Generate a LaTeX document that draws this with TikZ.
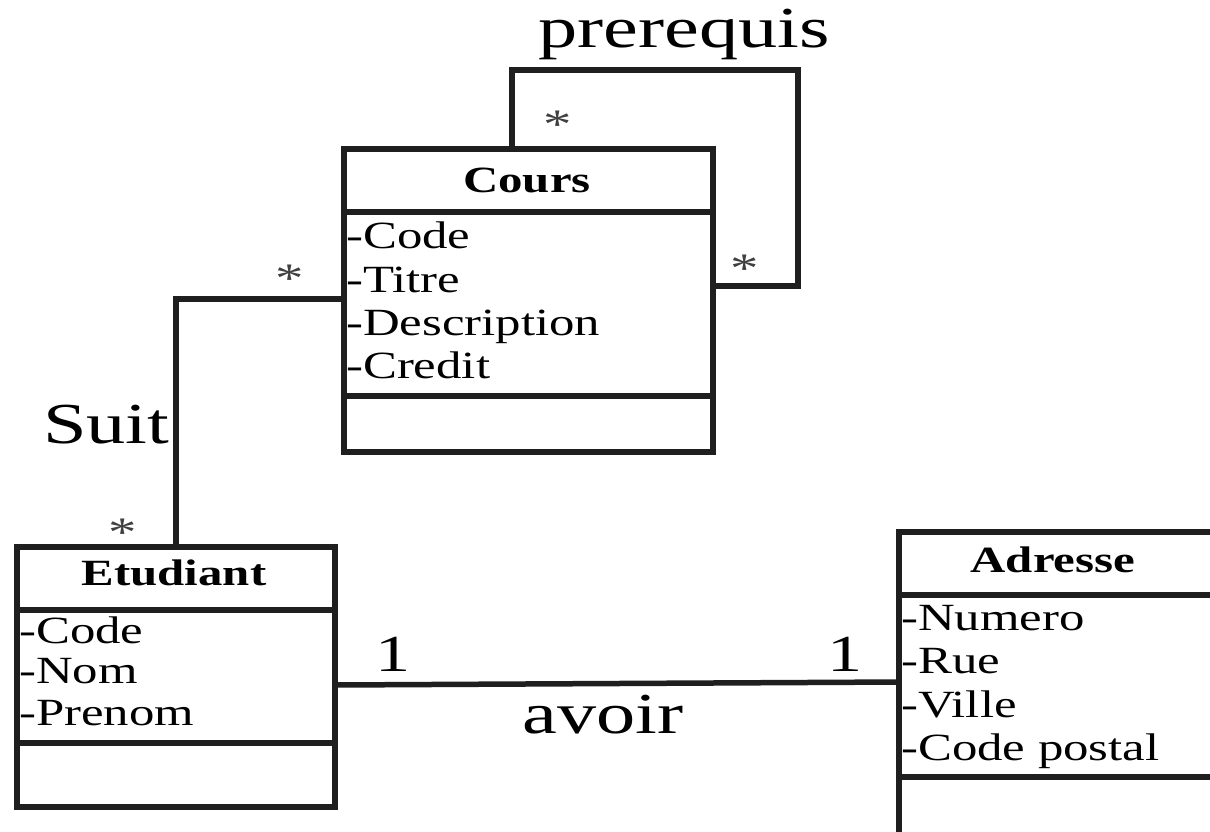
\documentclass[tikz,border=0pt]{standalone}
\usepackage{fontspec}
\newfontfamily\umlfont[FakeStretch=1.32]{Liberation Serif}
\newfontfamily\lblfont[FakeStretch=1.35]{Liberation Serif}
\begin{document}
\begin{tikzpicture}[x=1pt,y=-1pt,
  ink/.style={draw=black!88, line width=5.5pt},
  classbox/.style={ink, anchor=north west, inner sep=0pt, outer sep=0pt},
  attr/.style={anchor=base west, inner sep=0pt, font=\umlfont\fontsize{38.5}{40}\selectfont},
  head/.style={anchor=base, inner sep=0pt, font=\umlfont\bfseries\fontsize{37}{40}\selectfont},
  lbl/.style={anchor=base, inner sep=0pt, font=\lblfont\fontsize{58}{60}\selectfont},
  one/.style={anchor=base, inner sep=0pt, font=\lblfont\fontsize{52}{54}\selectfont},
  mult/.style={anchor=base, inner sep=0pt, text=black!75, font=\lblfont\fontsize{42}{44}\selectfont},
  conn/.style={ink}]
\useasboundingbox (0,0) rectangle (1210,831);
\clip (0,0) rectangle (1210,831);

% Cours
\node[classbox, minimum width=369pt, minimum height=303pt] (cours) at (344,149) {};
\draw[ink] (cours.west |- 0,212) -- (cours.east |- 0,212);
\draw[ink] (cours.west |- 0,396) -- (cours.east |- 0,396);
\node[head] (coursT) at (527,192) {Cours};
\node[attr] (c1) at (346,248) {-Code};
\node[attr] (c2) at (346,292) {-Titre};
\node[attr] (c3) at (346,335) {-Description};
\node[attr] (c4) at (346,378) {-Credit};

% Etudiant
\node[classbox, minimum width=318pt, minimum height=260pt] (etud) at (17,547) {};
\draw[ink] (etud.west |- 0,610) -- (etud.east |- 0,610);
\draw[ink] (etud.west |- 0,743) -- (etud.east |- 0,743);
\node[head] (etudT) at (174,585) {Etudiant};
\node[attr] (e1) at (19,643) {-Code};
\node[attr] (e2) at (19,683) {-Nom};
\node[attr] (e3) at (19,725) {-Prenom};

% Adresse
\node[classbox, minimum width=340pt, minimum height=330pt] (adr) at (899,532) {};
\draw[ink] (adr.west |- 0,595) -- (adr.east |- 0,595);
\draw[ink] (adr.west |- 0,777) -- (adr.east |- 0,777);
\node[head] (adrT) at (1053,572) {Adresse};
\node[attr] (a1) at (901,630) {-Numero};
\node[attr] (a2) at (901,673) {-Rue};
\node[attr] (a3) at (901,717) {-Ville};
\node[attr] (a4) at (901,760) {-Code postal};

% prerequis (self association)
\coordinate (loopc) at (798,70);
\draw[conn] (cours.north -| 512,0) |- (loopc) |- (cours.east |- 0,286);
\node[lbl, anchor=base west] (prereq) at (538,47) {prerequis};
\node[mult] (m1) at (558,138) {*};
\node[mult] (m2) at (745,282) {*};

% Suit
\draw[conn] (cours.west |- 0,299) -| (etud.north);
\node[lbl, anchor=base west] (suit) at (43,443) {Suit};
\node[mult] (m3) at (290,292) {*};
\node[mult] (m4) at (123,546) {*};

% avoir
\draw[conn] (etud.east |- 0,685) -- (adr.west |- 0,682);
\node[one] (o1) at (393,671) {1};
\node[one] (o2) at (845,671) {1};
\node[lbl] (avoir) at (603,733) {avoir};
\end{tikzpicture}
\end{document}
